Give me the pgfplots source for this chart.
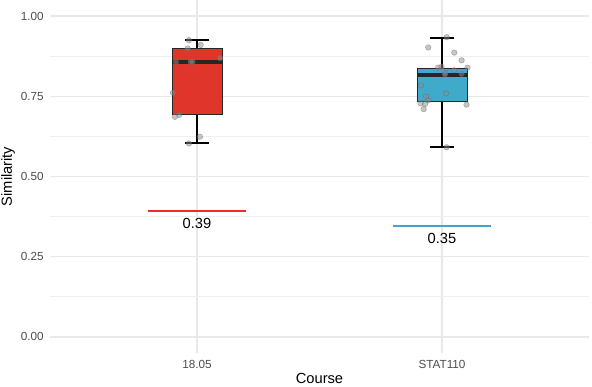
\documentclass[border=0pt]{standalone}
\usepackage{fontspec}
\setmainfont{Liberation Sans}
\usepackage{pgfplots}
\pgfplotsset{compat=1.18}
\usepgfplotslibrary{statistics}
\definecolor{boxred}{RGB}{223,53,43}
\definecolor{boxblue}{RGB}{64,170,203}
\definecolor{linered}{RGB}{228,48,40}
\definecolor{lineblue}{RGB}{60,168,206}
\definecolor{gridc}{RGB}{232,232,232}

\begin{document}
\begin{tikzpicture}
\begin{axis}[at={(0,0)},anchor=south west,scale only axis,
    width=404.25pt,height=264.75pt,
    xmin=0.4,xmax=2.6,ymin=-0.05,ymax=1.05,
    axis line style={draw=none},major tick length=0pt,minor tick length=0pt,
    xtick={1,2},xticklabels={18.05,STAT110},
    ytick={0,0.25,0.5,0.75,1},minor ytick={0.125,0.375,0.625,0.875},
    yticklabel style={/pgf/number format/fixed,/pgf/number format/fixed zerofill,/pgf/number format/precision=2},
    /pgf/number format/assume math mode=true,
    xmajorgrids,ymajorgrids,yminorgrids,
    major grid style={gridc,line width=0.9pt},
    minor grid style={gridc!70,line width=0.6pt},
    tick label style={font=\fontsize{8.8}{10}\selectfont,text=black!70,inner sep=0pt},
    xticklabel style={anchor=center,yshift=-8.25pt},
    yticklabel style={anchor=east,xshift=-4.5pt},
    label style={font=\fontsize{11}{13}\selectfont},
    xlabel={Course},ylabel={Similarity},
    xlabel style={at={(axis description cs:0.5,-0.0715)},anchor=center},
    ylabel style={at={(axis description cs:-0.0779,0.5)},anchor=center},
    boxplot/draw direction=y,
    boxplot/every whisker/.style={line width=1.2pt,black},
    boxplot/every median/.style={line width=3pt,black!85},
    boxplot/every box/.style={line width=0.6pt,draw=black!85},
  ]
  % boxes
  \addplot[boxplot prepared={lower whisker=0.604,lower quartile=0.692,median=0.857,
      upper quartile=0.900,upper whisker=0.925,draw position=1,box extend=0.204,whisker extend=0.1},
      fill=boxred] coordinates {};
  \addplot[boxplot prepared={lower whisker=0.592,lower quartile=0.735,median=0.816,
      upper quartile=0.838,upper whisker=0.931,draw position=2,box extend=0.204,whisker extend=0.1},
      fill=boxblue] coordinates {};

  % jittered observations
  \addplot[only marks,mark=*,mark size=2.1pt,mark options={fill=black!45,draw=black!60,line width=0.35pt},opacity=0.5]
    coordinates {(0.967,0.925)(1.015,0.910)(0.962,0.899)(1.094,0.869)(0.914,0.857)(0.974,0.857)
      (0.982,0.857)(0.902,0.761)(0.910,0.686)(0.927,0.692)(1.012,0.624)(0.967,0.603)};
  \addplot[only marks,mark=*,mark size=2.1pt,mark options={fill=black!45,draw=black!60,line width=0.35pt},opacity=0.5]
    coordinates {(2.019,0.934)(1.944,0.902)(2.050,0.886)(2.080,0.862)(2.104,0.839)(1.984,0.839)
      (1.998,0.842)(2.050,0.831)(2.013,0.823)(2.080,0.820)(2.012,0.818)(1.914,0.784)(2.016,0.759)
      (1.935,0.749)(1.944,0.737)(1.913,0.728)(1.931,0.726)(1.925,0.710)(2.100,0.724)(2.019,0.591)};

  % reference lines
  \addplot[linered,line width=1.3pt] coordinates {(0.8,0.3935)(1.2,0.3935)};
  \addplot[lineblue,line width=1.3pt] coordinates {(1.8,0.3467)(2.2,0.3467)};
  \node[font=\fontsize{11}{13}\selectfont,anchor=center,yshift=-9.6pt] at (axis cs:1,0.3935) {0.39};
  \node[font=\fontsize{11}{13}\selectfont,anchor=center,yshift=-9.3pt] at (axis cs:2,0.3467) {0.35};
\end{axis}
\pgfresetboundingbox
\useasboundingbox (-37.5pt,-24.75pt) rectangle (406.5pt,264.75pt);
\end{tikzpicture}
\end{document}
